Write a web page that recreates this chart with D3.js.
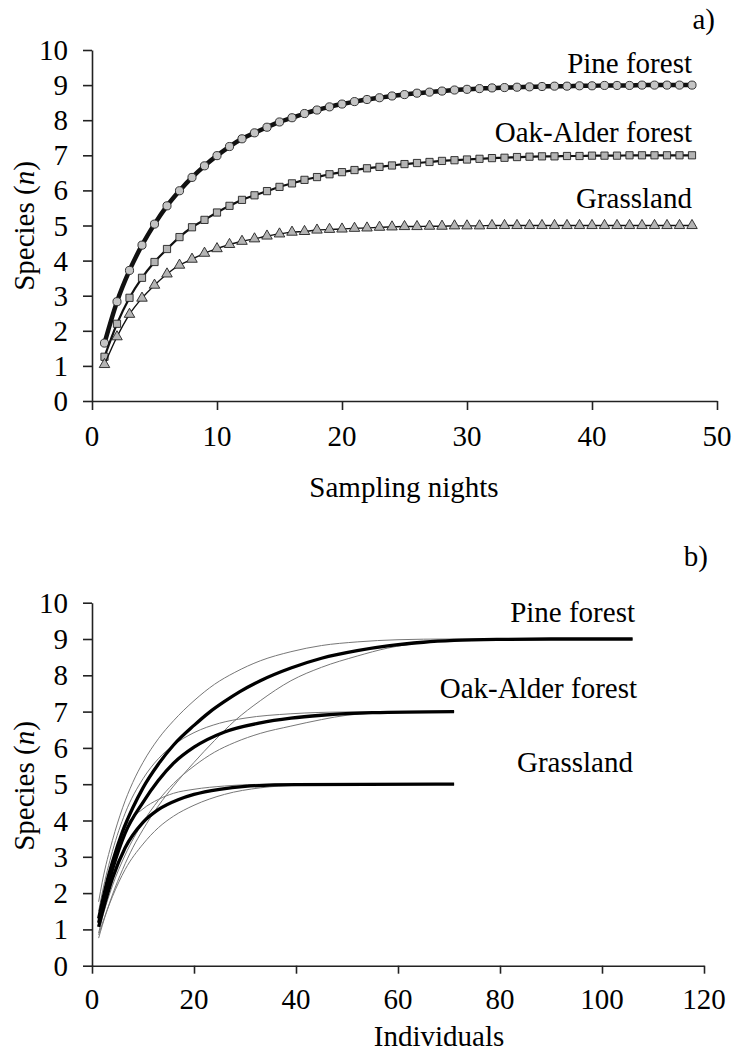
<!DOCTYPE html>
<html>
<head>
<meta charset="utf-8">
<script src="https://cdn.jsdelivr.net/npm/d3@7"></script>
</head>
<body style="margin:0">
<svg id="chart" width="734" height="1053"></svg>
<script>
// ---------- Panel a) data ----------
const nights = [1,2,3,4,5,6,7,8,9,10,11,12,13,14,15,16,17,18,19,20,21,22,23,24,25,26,27,28,29,30,31,32,33,34,35,36,37,38,39,40,41,42,43,44,45,46,47,48];
const pineNights = [1.65,2.83,3.72,4.44,5.04,5.56,5.99,6.37,6.70,6.99,7.25,7.47,7.64,7.80,7.95,8.07,8.19,8.29,8.38,8.46,8.53,8.59,8.64,8.69,8.73,8.77,8.80,8.83,8.86,8.88,8.90,8.92,8.93,8.94,8.95,8.96,8.97,8.97,8.98,8.98,8.99,8.99,8.99,9.0,9.0,9.0,9.0,9.0];
const oakNights = [1.26,2.20,2.94,3.51,3.96,4.33,4.67,4.95,5.16,5.37,5.56,5.73,5.86,5.98,6.10,6.20,6.30,6.38,6.46,6.52,6.58,6.63,6.67,6.71,6.75,6.78,6.81,6.84,6.86,6.88,6.90,6.92,6.93,6.95,6.96,6.97,6.97,6.98,6.98,6.99,6.99,6.99,7.0,7.0,7.0,7.0,7.0,7.0];
const grassNights = [1.04,1.83,2.47,2.93,3.30,3.62,3.87,4.04,4.21,4.34,4.46,4.55,4.62,4.70,4.76,4.81,4.83,4.87,4.89,4.90,4.92,4.93,4.95,4.96,4.97,4.97,4.98,4.98,4.99,4.99,4.99,5.0,5.0,5.0,5.0,5.0,5.0,5.0,5.0,5.0,5.0,5.0,5.0,5.0,5.0,5.0,5.0,5.0];
const xTicksA = [0,10,20,30,40,50];
const yTicks = [0,1,2,3,4,5,6,7,8,9,10];
const habitats = ["Pine forest","Oak-Alder forest","Grassland"];

// ---------- Panel b) data (rarefaction by individuals, mean + CI) ----------
const pineInd   = [1.3,2,3,4,6,8,10,13,16,20,23,26,29,33,39,45,52,58,65,71,80,90,106];
const pineMean  = [1.3,1.75,2.35,2.85,3.7,4.35,4.9,5.55,6.08,6.62,6.98,7.28,7.55,7.85,8.2,8.47,8.68,8.81,8.91,8.96,8.99,9.0,9.0];
const pineUpInd = [1.3,2,4,6,8,10,13,16,20,24,28,33,39,45,52,60,70,106];
const pineUp    = [1.76,2.3,3.45,4.35,5.05,5.6,6.25,6.75,7.3,7.75,8.08,8.4,8.65,8.82,8.92,8.98,9.0,9.0];
const pineLoInd = [1.3,2,4,6,8,10,13,16,20,24,28,33,39,45,52,58,65,71,80,90,106];
const pineLo    = [0.76,1.1,1.95,2.65,3.25,3.75,4.4,4.95,5.6,6.2,6.75,7.3,7.85,8.22,8.53,8.75,8.9,8.97,9.0,9.0,9.0];

const oakInd    = [1.3,2,4,6.5,10,13,16,20,26,33,39,45,55,71];
const oakMean   = [1.18,1.6,2.64,3.65,4.5,5.1,5.58,6.02,6.44,6.69,6.82,6.9,6.97,7.0];
const oakUpInd  = [1.3,2,4,6.5,10,13,16,20,25,30,39,50,71];
const oakUp     = [1.5,2.0,3.15,4.2,5.15,5.7,6.08,6.42,6.68,6.82,6.94,6.99,7.0];
const oakLoInd  = [1.3,2,4,6.5,10,13,16,20,24,28,33,39,45,50,60,71];
const oakLo     = [0.9,1.3,2.2,3.05,3.95,4.55,5.02,5.5,5.88,6.15,6.4,6.6,6.78,6.9,6.98,7.0];

const grassInd   = [1.3,2,4,6.5,10,13,17,20,25,30,40,71];
const grassMean  = [1.07,1.45,2.4,3.25,3.95,4.3,4.58,4.72,4.86,4.94,4.99,5.0];
const grassUpInd = [1.3,2,4,6.5,10,13,16,20,26,35,71];
const grassUp    = [1.3,1.78,2.9,3.8,4.32,4.58,4.75,4.86,4.95,5.0,5.0];
const grassLoInd = [1.3,2,4,6.5,10,13,16,20,26,33,40,50,71];
const grassLo    = [0.85,1.15,1.9,2.65,3.35,3.8,4.12,4.42,4.72,4.9,4.97,5.0,5.0];
const xTicksB = [0,20,40,60,80,100,120];

// ---------- drawing ----------
const svg = d3.select("#chart");
const FS = 29;

// scales
const xA = d3.scaleLinear().domain([0, 50]).range([92, 717]);
const yA = d3.scaleLinear().domain([0, 10]).range([401, 50]);
const xB = d3.scaleLinear().domain([0, 120]).range([92, 704]);
const yB = d3.scaleLinear().domain([0, 10]).range([965.7, 602.7]);

// axes (lines only; labels drawn as plain texts below)
function drawAxisLines(x, y, xTicks, tickLenX) {
  svg.append("g").attr("transform", `translate(${x.range()[0]},0)`)
    .call(d3.axisLeft(y).tickValues(yTicks).tickSize(9).tickSizeOuter(0).tickFormat(""))
    .call(a => a.selectAll("path, line").attr("stroke", "#222").attr("stroke-width", 1.6));
  svg.append("g").attr("transform", `translate(0,${y.range()[0]})`)
    .call(d3.axisBottom(x).tickValues(xTicks).tickSize(tickLenX).tickSizeOuter(0).tickFormat(""))
    .call(a => a.selectAll("path, line").attr("stroke", "#222").attr("stroke-width", 1.6));
}
drawAxisLines(xA, yA, xTicksA, 9);
drawAxisLines(xB, yB, xTicksB, 8);

// panel a series
const seriesA = [
  { vals: pineNights, lw: 4.5, sym: d3.symbolCircle, size: 52, fill: "#c4c4c4" },
  { vals: oakNights, lw: 2.2, sym: d3.symbolSquare, size: 52, fill: "#b4b4b4" },
  { vals: grassNights, lw: 1.4, sym: d3.symbolTriangle, size: 48, fill: "#b4b4b4" }
];
const lineA = d3.line().x(d => xA(d[0])).y(d => yA(d[1])).curve(d3.curveMonotoneX);
seriesA.forEach(s => {
  const pts = nights.map((n, i) => [n, s.vals[i]]);
  svg.append("path").datum(pts).attr("d", lineA).attr("fill", "none").attr("stroke", "#111").attr("stroke-width", s.lw);
  svg.append("g").selectAll("path").data(pts).join("path")
    .attr("transform", d => `translate(${xA(d[0])},${yA(d[1])})`)
    .attr("d", d3.symbol().type(s.sym).size(s.size))
    .attr("fill", s.fill).attr("stroke", "#222").attr("stroke-width", 0.9);
});

// panel b curves
const lineB = d3.line().x(d => xB(d[0])).y(d => yB(d[1])).curve(d3.curveMonotoneX);
[[pineUpInd, pineUp], [pineLoInd, pineLo], [oakUpInd, oakUp], [oakLoInd, oakLo], [grassUpInd, grassUp], [grassLoInd, grassLo]]
  .forEach(([xs, ys]) => {
    svg.append("path").datum(xs.map((v, i) => [v, ys[i]])).attr("d", lineB)
      .attr("fill", "none").attr("stroke", "#777").attr("stroke-width", 1);
  });
[[pineInd, pineMean], [oakInd, oakMean], [grassInd, grassMean]].forEach(([xs, ys]) => {
  svg.append("path").datum(xs.map((v, i) => [v, ys[i]])).attr("d", lineB)
    .attr("fill", "none").attr("stroke", "#000").attr("stroke-width", 3.3);
});

// all texts as one data join, styled like a plain text list
const labels = [];
yTicks.forEach(t => labels.push({ t: String(t), x: 68, y: yA(t) + 10, a: "end" }));
yTicks.forEach(t => labels.push({ t: String(t), x: 68, y: yB(t) + 10, a: "end" }));
xTicksA.forEach(t => labels.push({ t: String(t), x: xA(t), y: 446, a: "middle" }));
xTicksB.forEach(t => labels.push({ t: String(t), x: xB(t), y: 1009, a: "middle" }));
labels.push({ t: "Sampling nights", x: 404, y: 497, a: "middle" });
labels.push({ t: "Individuals", x: 439, y: 1046, a: "middle" });
labels.push({ t: "a)", x: 715, y: 29, a: "end" });
labels.push({ t: "b)", x: 708, y: 566, a: "end" });
labels.push({ t: habitats[0], x: 692, y: 73, a: "end" });
labels.push({ t: habitats[1], x: 692, y: 142, a: "end" });
labels.push({ t: habitats[2], x: 692, y: 208, a: "end" });
labels.push({ t: habitats[0], x: 635, y: 622, a: "end" });
labels.push({ t: habitats[1], x: 637, y: 698, a: "end" });
labels.push({ t: habitats[2], x: 633, y: 772, a: "end" });

const fam = d => `"${"Liberation Serif"}"`;
svg.append("g").selectAll("text").data(labels).join("text")
  .attr("x", d => d.x).attr("y", d => d.y).attr("font-size", FS)
  .attr("text-anchor", d => d.a)
  .style("font-family", fam)
  .text(d => d.t);

// rotated y-axis labels
[226, 786].forEach(cy => {
  const t = svg.append("text")
    .attr("transform", `translate(34,${cy}) rotate(-90)`)
    .attr("text-anchor", "middle").attr("font-size", FS)
    .style("font-family", fam);
  t.append("tspan").text("Species (");
  t.append("tspan").style("font-style", "italic").text("n");
  t.append("tspan").text(")");
});
</script>
</body>
</html>
